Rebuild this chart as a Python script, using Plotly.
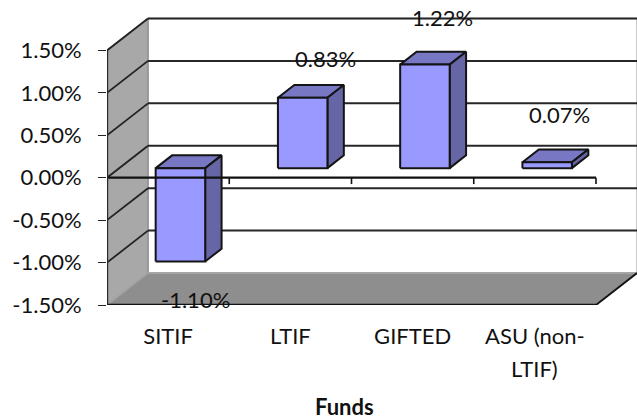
import plotly.graph_objects as go

# Chart content
funds = ["SITIF", "LTIF", "GIFTED", "ASU (non-"]
fund_second_line = {3: "LTIF)"}
returns_pct = [-1.10, 0.83, 1.22, 0.07]
value_ticks = [-1.5, -1.0, -0.5, 0.0, 0.5, 1.0, 1.5]

# Oblique projection: one unit of depth moves a point right and up by these amounts
DEPTH_X = 41 / 122.25
DEPTH_Y = 32 / 85
BAR_HALF = 0.2025
BAR_DEPTH = (0.30, 0.70)
X_MAX = 530 / 122.25
Y_MAX = 300.5 / 85 - 1.5
FONT = "Lato"
INK = "#141414"

# Horizontal nudge (px) and vertical offset (px) of each value label from its bar end
label_shift = [(15, -38), (23, 39.5), (17.5, 47), (12, 48)]


def project(cat, val, depth=0.0):
    return cat + depth * DEPTH_X, val + depth * DEPTH_Y


def poly(points, fill, color=INK, width=2):
    xs, ys = zip(*(project(*p) for p in points + points[:1]))
    return go.Scatter(x=xs, y=ys, mode="lines", fill="toself" if fill else "none", fillcolor=fill,
                      line=dict(color=color, width=width, dash="solid"), hoverinfo="skip",
                      showlegend=False, cliponaxis=False)


def segment(a, b, color=INK, width=1.6):
    xs, ys = zip(project(*a), project(*b))
    return go.Scatter(x=xs, y=ys, mode="lines", line=dict(color=color, width=width), hoverinfo="skip",
                      showlegend=False, cliponaxis=False)


fig = go.Figure()
n = len(funds)
lo, hi = value_ticks[0], value_ticks[-1]

# Walls and floor
fig.add_trace(poly([(0, lo, 1), (n, lo, 1), (n, hi, 1), (0, hi, 1)], "#ffffff", "#b4b4b4", 1.4))
fig.add_trace(poly([(0, lo, 0), (0, lo, 1), (0, hi, 1), (0, hi, 0)], "#a8a8a8", "#8f8f8f", 1.4))
fig.add_trace(poly([(0, lo, 0), (n, lo, 0), (n, lo, 1), (0, lo, 1)], "#8e8e8e", "#a5a5a5", 1.4))

# Gridlines run along the left wall and across the back wall
for v in value_ticks:
    if v != lo:
        fig.add_trace(segment((0, v, 0), (0, v, 1), "#222222", 1.8))
    fig.add_trace(segment((0, v, 1), (n, v, 1), "#262626" if v != lo else "#a5a5a5", 2 if v != lo else 1.4))
fig.add_trace(segment((0, lo, 0), (n, lo, 0), "#111111", 2.4))
fig.add_trace(segment((n, lo, 0), (n, lo, 1), "#111111", 1.8))

# Bars
for i, v in enumerate(returns_pct):
    x0, x1 = i + 0.5 - BAR_HALF, i + 0.5 + BAR_HALF
    d0, d1 = BAR_DEPTH
    top = max(v, 0)
    bot = min(v, 0)
    fig.add_trace(poly([(x0, top, d0), (x1, top, d0), (x1, top, d1), (x0, top, d1)], "#7777c4"))
    fig.add_trace(poly([(x1, bot, d0), (x1, bot, d1), (x1, top, d1), (x1, top, d0)], "#6666a6"))
    fig.add_trace(poly([(x0, bot, d0), (x1, bot, d0), (x1, top, d0), (x0, top, d0)], "#9999ff"))

# Category axis at zero, with tick marks between the funds
fig.add_trace(segment((0, 0, 0), (n, 0, 0), "#111111", 2.2))
for c in range(n + 1):
    fig.add_trace(segment((c, 0, 0), (c, -0.075, 0), "#111111", 1.6))
fig.add_trace(segment((0, lo, 0), (0, hi, 0), "#2a2a2a", 2.4))

# Value labels sit on the bar ends
annotations = []
for i, v in enumerate(returns_pct):
    dx, dy = label_shift[i]
    x, y = project(i + 0.5, v, BAR_DEPTH[0])
    annotations.append(dict(x=x, y=y, xref="x", yref="y", text=f"{v:.2f}%", showarrow=False,
                            xshift=dx, yshift=dy, font=dict(family=FONT, size=22, color="#111111")))
for i, text in fund_second_line.items():
    annotations.append(dict(x=i + 0.5, y=-0.212, xref="x", yref="paper", text=text, showarrow=False,
                            font=dict(family=FONT, size=22, color="#111111"), yanchor="middle"))
annotations.append(dict(x=n / 2, y=-0.338, xref="x", yref="paper", text="<b>Funds</b>", showarrow=False,
                        xshift=-7, font=dict(family=FONT, size=22, color="#111111"), yanchor="middle"))

fig.update_layout(
    width=637, height=420, autosize=False,
    margin=dict(l=107, r=0, t=5, b=114.5, pad=0),
    paper_bgcolor="white", plot_bgcolor="white", showlegend=False,
    font=dict(family=FONT, size=22, color="#111111"),
    xaxis=dict(range=[0, X_MAX], tickmode="array", tickvals=[i + 0.5 for i in range(n)], ticktext=funds,
               showgrid=False, zeroline=False, showline=False, ticks="", ticklabelstandoff=16,
               tickangle=0, automargin=False, tickfont=dict(family=FONT, size=22)),
    yaxis=dict(range=[lo, Y_MAX], tickmode="array", tickvals=value_ticks,
               ticktext=[f"{t:.2f}%" for t in value_ticks], showgrid=False, zeroline=False, showline=False,
               ticks="outside", ticklen=8, tickwidth=1.4, tickcolor="#222222", automargin=False,
               ticklabelstandoff=12, tickfont=dict(family=FONT, size=22)),
    annotations=annotations,
)

fig.write_html("out.html")
